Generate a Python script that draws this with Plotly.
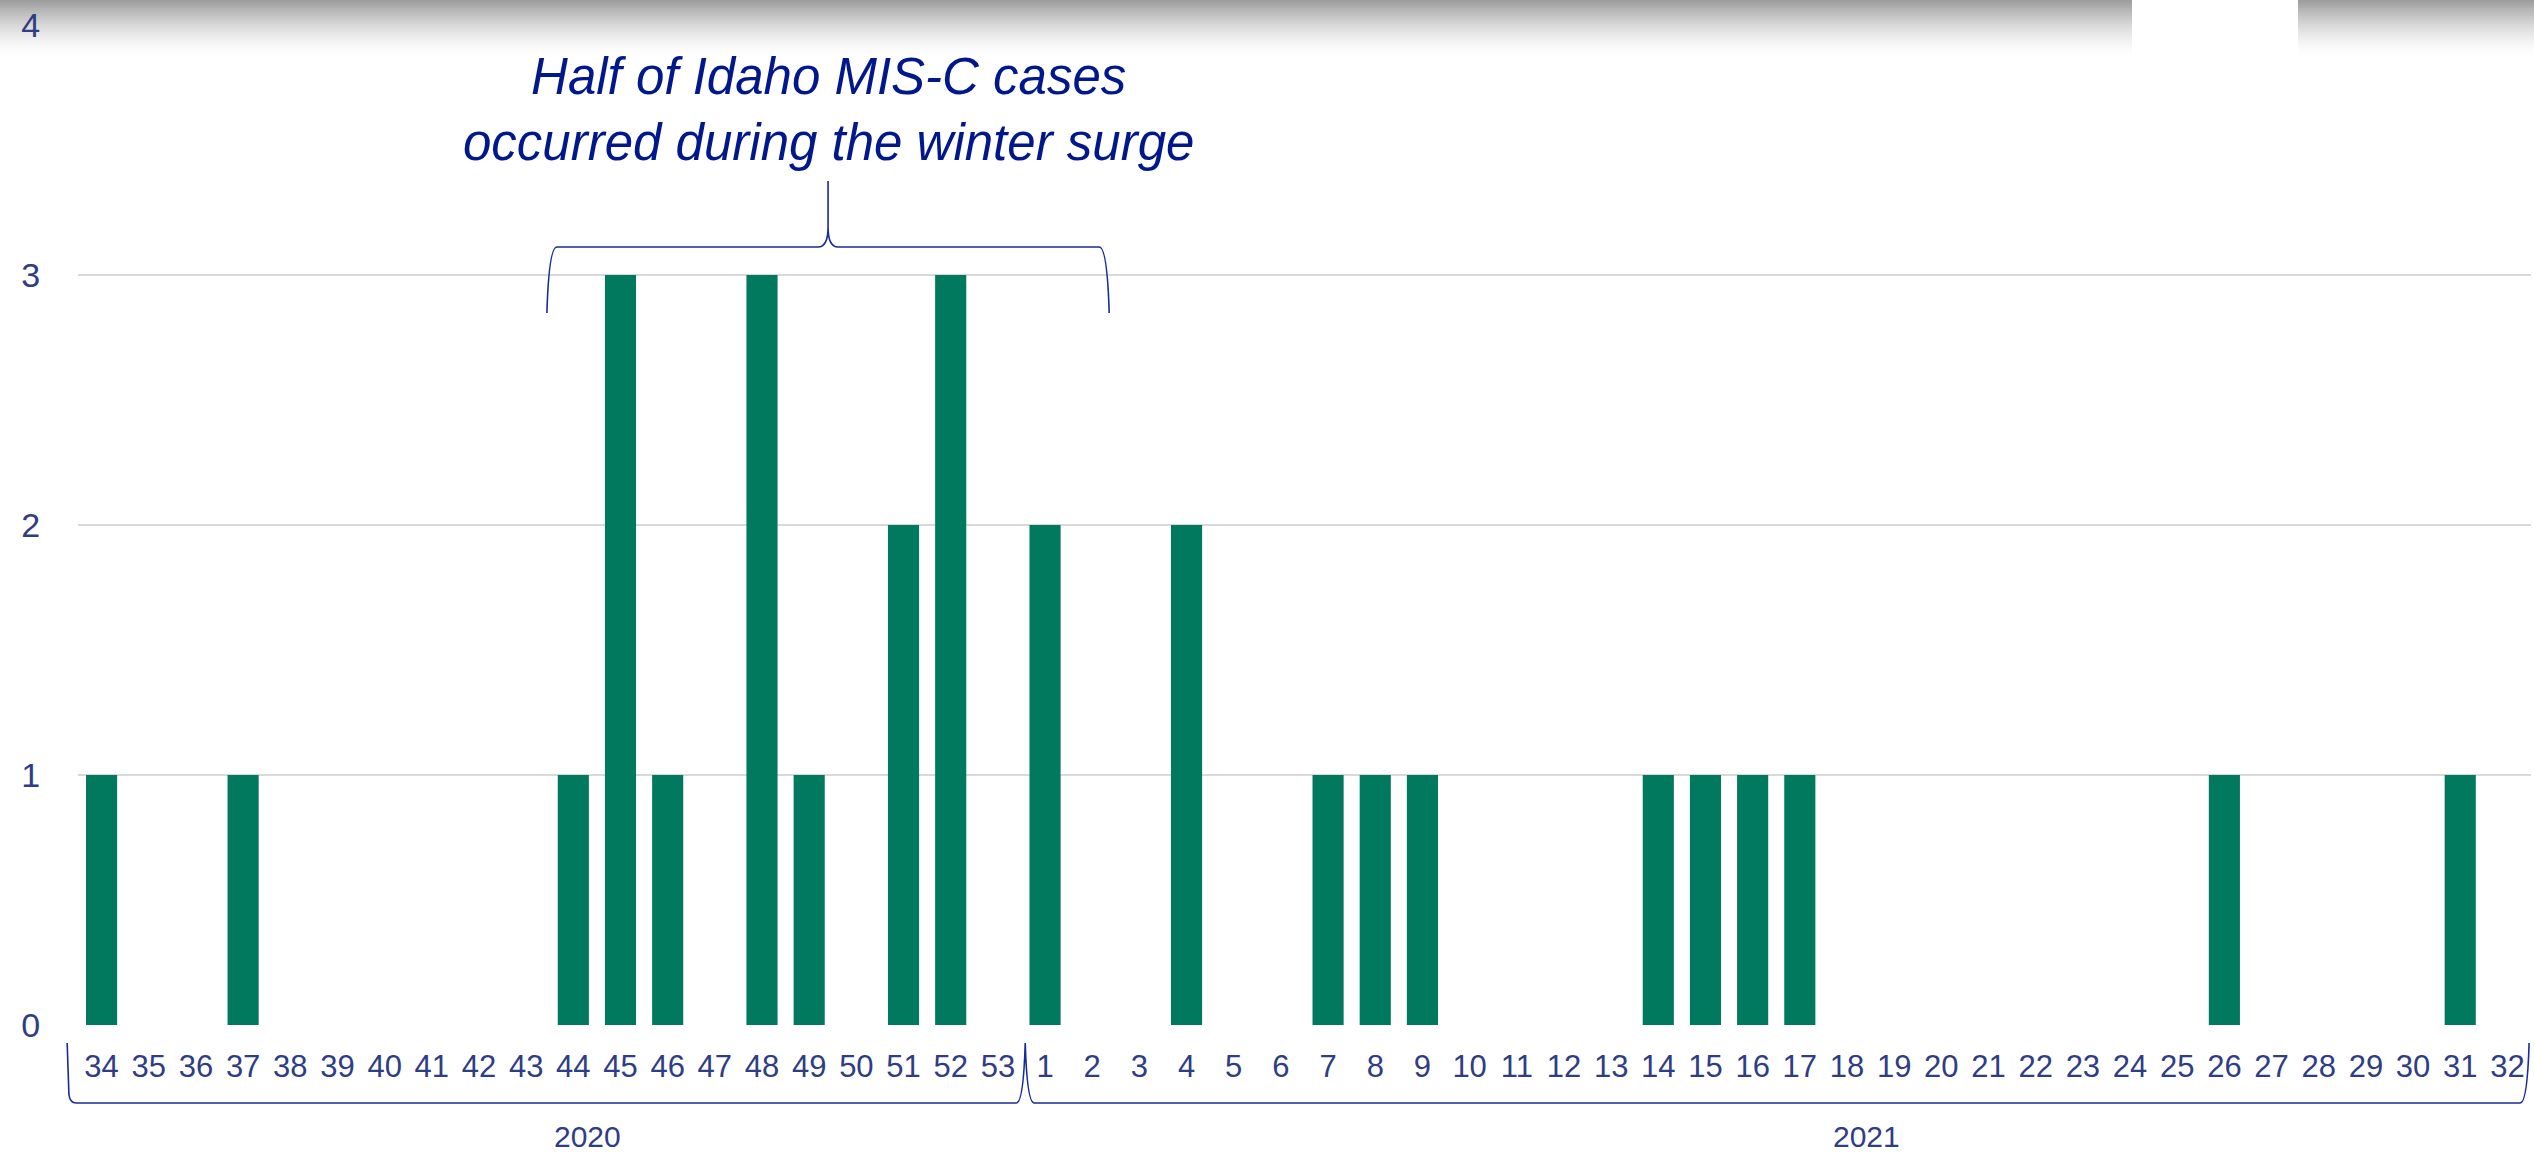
import plotly.graph_objects as go

# 주차별 MIS-C 사례 수
weeks_2020 = ["34", "35", "36", "37", "38", "39", "40", "41", "42", "43",
              "44", "45", "46", "47", "48", "49", "50", "51", "52", "53"]
cases_2020 = [1, 0, 0, 1, 0, 0, 0, 0, 0, 0,
              1, 3, 1, 0, 3, 1, 0, 2, 3, 0]

weeks_2021 = ["1", "2", "3", "4", "5", "6", "7", "8", "9", "10",
              "11", "12", "13", "14", "15", "16", "17", "18", "19", "20",
              "21", "22", "23", "24", "25", "26", "27", "28", "29", "30",
              "31", "32"]
cases_2021 = [2, 0, 0, 2, 0, 0, 1, 1, 1, 0,
              0, 0, 0, 1, 1, 1, 1, 0, 0, 0,
              0, 0, 0, 0, 0, 1, 0, 0, 0, 0,
              1, 0]

year_labels = ["2020", "2021"]
y_ticks = [0, 1, 2, 3, 4]
note_text = "Half of Idaho MIS-C cases<br>occurred during the winter surge"

weeks = weeks_2020 + weeks_2021
cases = cases_2020 + cases_2021
n = len(weeks)

W, H = 2534, 1155
ML, MR, MT, MB = 78, 3, 25, 130
PW = W - ML - MR
PH = H - MT - MB

LABEL_COLOR = "#2e3d84"
NAVY = "#00188c"
LINE = "#1a2a9c"
FONT = "Liberation Sans, Arial, sans-serif"


def cat_x(i):
    """카테고리 인덱스 -> paper x"""
    return (i + 0.5) / n


def px_x(p):
    return (p - ML) / PW


def px_y(p):
    return (H - MB - p) / PH


fig = go.Figure()
fig.add_trace(go.Bar(
    x=weeks,
    y=cases,
    marker_color="#00795f",
    marker_line_width=0,
    hoverinfo="x+y",
))

# 하단 연도 괄호
x0, xj, x1 = cat_x(-0.73), cat_x(19.58), cat_x(51.46)
yA, yB = px_y(1043), px_y(1103)
dx = 6 / PW
dy = 8 / PH
bottom_path = (
    f"M {x0},{yA} L {x0 + dx * 0.3},{yB + dy} Q {x0 + dx * 0.5},{yB} {x0 + dx * 1.5},{yB} "
    f"L {xj - dx * 1.5},{yB} Q {xj - dx * 0.3},{yB} {xj},{yA} "
    f"Q {xj + dx * 0.3},{yB} {xj + dx * 1.5},{yB} "
    f"L {x1 - dx * 1.5},{yB} Q {x1 - dx * 0.3},{yB} {x1},{yA}"
)

# 상단 중괄호 (겨울 급증 구간)
xl, xs, xr = cat_x(9.44), cat_x(15.4), cat_x(21.36)
y_end, y_h, y_top = 2.848, 3.112, 3.376
bdx = 10 / PW
top_path = (
    f"M {xl},{y_end} Q {xl + bdx * 0.2},{y_h} {xl + bdx},{y_h} "
    f"L {xs - bdx},{y_h} Q {xs},{y_h} {xs},{y_h + 0.08} L {xs},{y_top} "
    f"M {xs},{y_h + 0.08} Q {xs},{y_h} {xs + bdx},{y_h} "
    f"L {xr - bdx},{y_h} Q {xr - bdx * 0.2},{y_h} {xr},{y_end}"
)

shapes = [
    dict(type="path", xref="paper", yref="paper", path=bottom_path,
         line=dict(color=LINE, width=1.6), layer="above"),
    dict(type="path", xref="paper", yref="y", path=top_path,
         line=dict(color=LINE, width=1.6), layer="above"),
]

# 상단 회색 그림자 (스크린샷 가장자리)
steps = 28
for k in range(steps):
    t = k / steps
    a = 0.75 * (1 - t) ** 1.6
    for xa, xb in [(px_x(0), px_x(2132)), (px_x(2298), px_x(W))]:
        shapes.append(dict(
            type="rect", xref="paper", yref="paper",
            x0=xa, x1=xb, y0=px_y(2 * (k + 1)), y1=px_y(2 * k),
            fillcolor=f"rgba(125,125,125,{a:.3f})", line_width=0, layer="below",
        ))

annotations = [
    dict(text=note_text, xref="paper", yref="y", x=xs, y=3.664,
         showarrow=False, xanchor="center", yanchor="middle",
         font=dict(family=FONT, size=51, color=NAVY, style="italic")),
    dict(text=year_labels[0], xref="paper", yref="paper", x=px_x(587), y=px_y(1136),
         showarrow=False, xanchor="center", yanchor="middle",
         font=dict(family=FONT, size=30, color=LABEL_COLOR)),
    dict(text=year_labels[1], xref="paper", yref="paper", x=px_x(1866), y=px_y(1136),
         showarrow=False, xanchor="center", yanchor="middle",
         font=dict(family=FONT, size=30, color=LABEL_COLOR)),
]

fig.update_layout(
    width=W, height=H,
    margin=dict(l=ML, r=MR, t=MT, b=MB),
    paper_bgcolor="white",
    plot_bgcolor="rgba(0,0,0,0)",
    bargap=0.34,
    showlegend=False,
    font=dict(family=FONT, color=LABEL_COLOR),
    shapes=shapes,
    annotations=annotations,
    xaxis=dict(
        type="category",
        categoryorder="array",
        categoryarray=weeks,
        showgrid=False,
        showline=False,
        zeroline=False,
        ticks="outside",
        ticklen=14,
        tickcolor="rgba(0,0,0,0)",
        tickfont=dict(family=FONT, size=31, color=LABEL_COLOR),
        tickangle=0,
    ),
    yaxis=dict(
        range=[0, 4],
        tickvals=y_ticks,
        showgrid=True,
        gridcolor="#d9d9d9",
        gridwidth=2,
        zeroline=False,
        showline=False,
        ticks="outside",
        ticklen=30,
        tickcolor="rgba(0,0,0,0)",
        tickfont=dict(family=FONT, size=34, color=LABEL_COLOR),
    ),
)

fig.write_html(
    "out.html",
    config={"displayModeBar": False},
    post_script="document.body.style.margin='0';document.body.style.overflow='hidden';",
)
